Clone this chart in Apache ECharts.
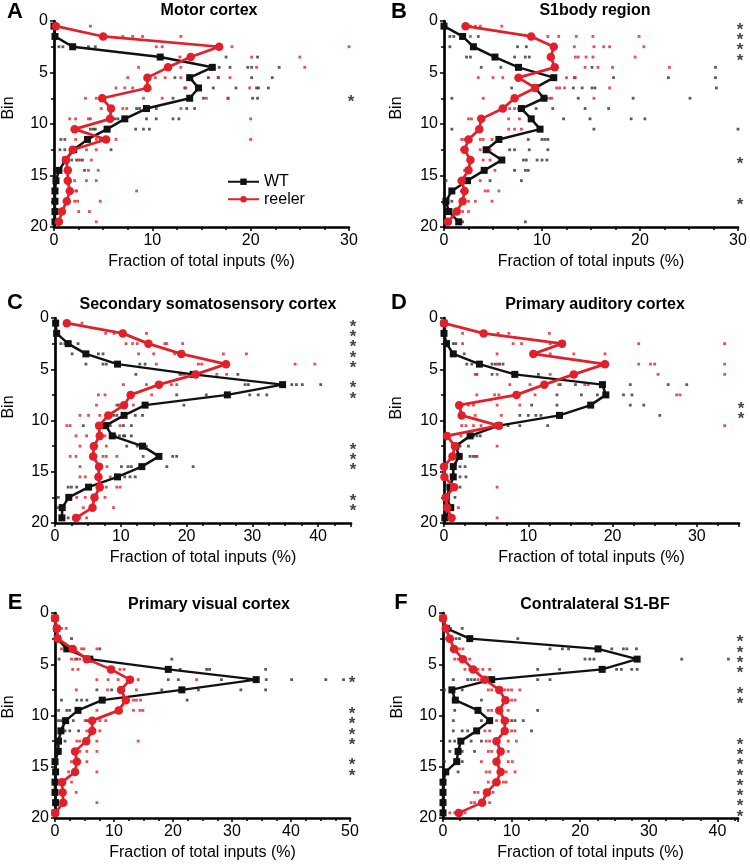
<!DOCTYPE html>
<html>
<head>
<meta charset="utf-8">
<script src="https://cdn.jsdelivr.net/npm/echarts@6/dist/echarts.min.js"></script>
<style>html,body{margin:0;padding:0;background:#fff}#c{width:750px;height:868px}</style>
</head>
<body>
<div id="c"></div>
<script>
// ---------- DATA ----------
const bins = [0.5,1.5,2.5,3.5,4.5,5.5,6.5,7.5,8.5,9.5,10.5,11.5,12.5,13.5,14.5,15.5,16.5,17.5,18.5,19.5];
const xTickMaxes = [30, 30, 45, 35, 50, 43];
const panelLetters = ['A','B','C','D','E','F'];
const panelTitles = ['Motor cortex','S1body region','Secondary somatosensory cortex','Primary auditory cortex','Primary visual cortex','Contralateral S1-BF'];
const seriesNames = ['WT','reeler'];
const xAxisTitle = 'Fraction of total inputs (%)';
const yAxisTitle = 'Bin';

const wtA = [0,0.1,1.9,10.8,16.1,13.8,14.7,13.8,9.4,7.2,5.4,3.4,2.0,1.2,0.5,0.2,0.1,0.1,0.1,0.1];
const reelerA = [0.2,5.0,16.8,13.9,11.6,9.5,9.5,4.9,5.8,5.7,2.1,5.3,1.9,1.2,1.4,1.4,1.6,1.3,0.8,0.5];
const wtB = [0,1.9,3.0,5.2,7.6,11.2,9.3,10.2,7.9,8.9,9.8,5.6,4.3,5.9,4.1,2.4,0.8,0.2,0.5,1.5];
const reelerB = [2.2,8.9,11.2,10.9,11.3,7.6,9.3,7.2,6.0,3.8,3.6,2.5,2.1,2.7,2.5,1.8,2.1,1.9,1.3,0.4];
const wtC = [0.1,0.25,2.0,4.7,9.5,21.0,34.6,26.2,13.7,10.5,7.7,8.7,13.3,15.8,13.2,9.5,5.1,2.1,1.1,1.05];
const reelerC = [1.8,10.3,14.2,19.2,26.0,21.4,15.8,11.5,10.5,8.1,6.7,6.8,5.9,5.8,6.7,6.6,6.8,6.0,5.7,3.2];
const wtD = [0,0,0.3,1.1,4.2,8.4,18.8,19.2,17.4,13.7,6.5,3.1,1.4,1.8,1.1,1.1,0.7,0.3,0.8,0.1];
const reelerD = [0,4.7,14.0,10.6,19.1,15.4,11.9,8.6,1.8,2.1,6.5,0.35,1.3,1.0,0,0.05,1.2,0.2,0.35,0.9];
const wtE = [0,0.3,0.4,2.0,5.9,19.2,34.1,21.5,8.0,3.9,1.8,1.0,0.6,0.55,0,0.1,0,0,0.1,0];
const reelerE = [0,0.3,0.45,3.0,5.4,9.5,12.7,11.2,12.0,10.8,6.3,6.3,5.3,3.4,3.7,3.4,1.2,1.3,1.4,0.05];
const wtF = [0,0.5,3.9,22.6,28.3,23.2,7.1,1.3,1.8,5.1,6.8,4.9,2.6,2.2,2.0,0.4,0,0,0,0];
const reelerF = [0,0.4,1.0,1.6,2.9,4.4,6.1,8.2,9.1,8.2,9.0,9.0,7.8,8.4,7.8,8.4,7.8,6.4,5.7,2.3];

// individual animals, one list per bin (index = bin row)
const dotsWtA = [[],[],[0.5,0.9,3.5,4.2],[17.5,20.7],[16.8,17.9,19.7,20.1,22.9],[12.3,15.7,16.7,20.1,22.2],[13.3,16.2,18.5,20.6,20.8,21.8],[12.1,15.2,17.7,20.2,20.7],[8.4,8.7,10.4,13.5,14.3],[6.2,6.5,9.4,10.4,12.1,12.7],[3.7,4.0,4.2,8.3,9.1,9.7],[0.7,1.1,4.7],[0.6,1.1,5.8],[1.8,2.3,2.9],[1.6,3.1],[],[],[],[],[]];
const dotsReA = [[3.7],[7.0,8.0,9.0,12.9],[10.4,11.0,18.1,30.0,30.8],[12.8,20.1,25.0],[8.6,12.9,20.6,25.5],[7.5,10.3,11.3,12.9,16.7,17.9],[6.3,7.2,8.0,13.4,19.9],[3.2,4.3,9.1,11.0,15.5,17.7],[4.8,6.0,7.0,7.4,12.9],[1.6,2.2,3.5,3.7,20.0],[2.0],[2.2,4.3,6.3,20.0],[1.8,3.3,4.3],[2.5,2.7,3.8],[3.5,4.5],[2.1,3.3,4.3],[2.2,2.3,8.4],[2.1,2.4,4.7],[2.5,3.6],[4.3]];
const dotsWtB = [[],[0.6,1.0,3.5],[0.6,7.5,8.4],[2.3,2.7,7.2,8.3,8.7],[3.8,5.8,15.1,27.7],[13.3,17.3,22.9,27.7],[6.9,13.2,14.1,15.1,15.4,27.8],[0.8,10.5,13.7,19.3,25.1],[9.4,11.1,14.4,16.8],[12.2,14.9,19.1,20.5],[0.8,15.3,30.0],[8.6,10.0,10.3,10.6],[6.7,7.2,8.7,10.6],[8.1,8.4,9.5,10.0,10.5],[7.2,8.3,8.6],[0.2,4.7,7.9],[0.8,1.8],[0.8],[],[1.9,8.3]];
const dotsReB = [[2.7,3.2,3.7,5.9],[2.7,10.6,11.7,13.5,15.2,19.9],[13.3,15.3,16.3,16.9,20.4],[13.4,13.7,14.5,15.2,19.5],[14.4,15.7,17.2,23.0],[3.5,5.0,6.0,12.5,13.4],[11.5,11.8,12.3,16.9],[4.0,10.8,11.0,15.3],[6.7,7.2,7.6],[2.5,2.8,6.6,7.7],[6.6,7.2,7.9],[1.8,2.1,3.7,4.0,4.9],[1.8,3.7,4.7],[2.8,4.0,4.7],[2.1,4.2,5.2],[3.7],[4.2,4.5,5.6],[2.5,3.2,4.9],[1.9,2.5],[0.4]];
const dotsWtC = [[],[],[0.9,1.5,3.5],[2.6,6.6,7.3],[4.7,7.3,7.8,12.9,13.7],[12.3,19.0,27.8],[28.9,29.4,36.0,36.7,37.6,40.4],[18.5,23.0,29.6,30.9,32.2],[9.6,10.6,19.6],[8.9,9.4,12.2,13.3],[4.3,8.4,10.4,11.6],[9.2,9.8,10.4,10.6,11.6],[10.9,12.5,13.4,13.9],[13.4,17.9,18.5],[10.1,11.1,11.6,17.0,21.0],[10.6,11.4,12.2],[2.0,2.5,3.3],[0.5],[0.5],[2.0]];
const dotsReC = [[4.1],[7.7,9.0,13.9],[10.8,11.8,12.5,16.7,17.0,19.4],[12.7,15.0,18.2,25.6,29.1],[15.4,21.8,22.3,36.5,39.5],[19.3,19.7,24.6,26.1],[10.4,13.9,17.7,18.5],[6.6,7.6,14.7],[6.3,9.4,9.9,11.9],[3.8,5.1,6.8],[1.8,2.3,9.9],[3.2,4.8,7.6],[3.8,6.3,7.8],[2.3,3.2,7.3,7.8,9.4],[3.8,7.9],[3.8,4.6,8.4],[7.8,9.4,9.9],[3.3,4.6,7.6],[4.3,8.9],[1.0,3.8,4.8]];
const dotsWtD = [[],[],[1.1,1.4],[2.4],[2.7,3.3,5.7,6.1,6.6,7.0],[3.9,5.7,11.2],[13.8,15.6,22.1,26.6,28.8],[13.4,16.3,18.2,21.3,22.3],[10.4,13.4,22.1,23.7],[9.0,10.0,10.9,11.5,25.6],[7.6,9.0,12.3],[3.5,3.9,4.3],[1.4,1.9,2.9],[2.0,3.1,3.5,3.9],[1.9,2.5],[1.9,2.6],[1.9],[1.3],[],[]];
const dotsReD = [[],[2.2,6.4,7.7,12.5],[2.2,8.2,9.2,12.6,23.1,33.3],[6.3,12.6,15.4,19.1],[6.4,23.1,24.5,25.0,33.3],[3.7,6.3,12.6,25.4,33.3],[7.8,10.2,13.6,16.7,17.1],[3.9,6.0,6.5,10.8,27.6,28.0],[2.9,3.5,6.3,9.0],[3.7,6.8],[2.1,2.6,3.5,4.4,33.3],[2.0],[6.3],[3.7],[],[],[6.3],[],[1.7],[6.3]];
const dotsWtE = [[],[],[2.8],[7.6],[0.7,3.7,19.8],[21.2,25.7,26.2,35.7],[19.2,20.9,28.2,35.8,40.1,45.9,48.9],[7.1,9.6,18.1,24.3,31.5,35.7],[1.1,3.7,4.5,5.4,22.4],[0.6,2.0,2.5],[0.6,1.1,3.1,5.4],[1.7,2.5,4.0],[0.8,1.7],[],[],[],[],[],[],[]];
const dotsReE = [[],[1.1,1.9],[],[1.1,4.5,4.9,7.1],[2.8,3.4,4.2],[3.0,3.9,11.0,11.7],[7.1,9.0,10.7,14.1,24.0],[3.6,8.9,13.8],[13.3,13.8,14.5],[7.1,13.3,14.4,14.9],[5.1,7.6,8.6],[5.4,7.6],[3.7,4.2,7.1,14.1],[4.2,5.4,7.1],[2.8,4.2,5.4],[2.3,7.1],[2.8],[3.6],[7.1],[]];
const dotsWtF = [[],[1.1,2.8],[1.2,1.9,2.4,10.9],[15.6,17.4,18.3,24.6,26.3,26.8,28.2],[20.7,21.4,22.0,34.8,41.6],[13.8,17.0,25.3,26.0,27.5,28.3],[1.5,3.6,4.1,4.6,13.8,15.6],[0.2,2.8],[1.5,5.6],[1.7,13.8],[1.5,5.6,10.0,10.5,11.7],[1.5,2.8,3.6,12.9],[1.0,1.7,4.1,5.6],[1.0,2.8,4.6],[0.2,2.8],[2.2],[],[],[],[]];
const dotsReF = [[],[],[0.5],[2.4,2.9],[1.7,2.2,3.2,3.9],[3.2,3.9,5.1,5.8,6.8],[5.1,5.6,6.3],[6.6,7.1,9.0,9.5,10.0,11.2],[8.8,10.0,10.5],[6.6,7.1,9.5],[6.6,7.1,7.8,9.5],[6.1,6.8,10.0,10.5],[6.3,6.8,9.5,10.7],[6.6,7.1,9.5],[5.6,7.8,9.5,10.1],[6.3,6.8,9.2,10.5],[6.6,7.3,8.8,9.2],[4.6,5.1,7.3],[4.1,4.6,6.8],[1.0,1.7,3.2]];

// bins with significant difference (asterisks)
const sigA = [7.5];
const sigB = [0.5,1.5,2.5,3.5,13.5,17.5];
const sigC = [0.5,1.5,2.5,3.5,4.5,6.5,7.5,12.5,13.5,14.5,17.5,18.5];
const sigD = [8.5,9.5];
const sigE = [6.5,9.5,10.5,11.5,12.5,14.5,15.5];
const sigF = [2.5,3.5,4.5,5.5,7.5,8.5,12.5,13.5,14.5,15.5,16.5,17.5,18.5,19.5];

// ---------- LAYOUT ----------
const FONT = "'Liberation Sans', Arial, sans-serif";
const RED = '#e3202a';
const BLACK = '#111111';
const grids = [
  {left:54, top:21, width:295, height:206},
  {left:444, top:21, width:294, height:206},
  {left:55, top:318, width:296, height:205},
  {left:444, top:318, width:295, height:205},
  {left:55, top:613, width:295, height:205},
  {left:443, top:613, width:295, height:205}
];
const titlePos = [[209,11],[595,11],[208,305],[595,305],[209,605],[595,605]];
const letterPos = [[15,12],[399,12],[15,303],[399,303],[15,603],[401,603]];
const binPos = [[9,108],[397,108],[9,407],[397,408],[9,707],[398,707]];

const panels = [
  {wt:wtA, re:reelerA, dw:dotsWtA, dr:dotsReA, sig:sigA},
  {wt:wtB, re:reelerB, dw:dotsWtB, dr:dotsReB, sig:sigB},
  {wt:wtC, re:reelerC, dw:dotsWtC, dr:dotsReC, sig:sigC},
  {wt:wtD, re:reelerD, dw:dotsWtD, dr:dotsReD, sig:sigD},
  {wt:wtE, re:reelerE, dw:dotsWtE, dr:dotsReE, sig:sigE},
  {wt:wtF, re:reelerF, dw:dotsWtF, dr:dotsReF, sig:sigF}
];

function dotPairs(rows) {
  const out = [];
  rows.forEach((vals, i) => vals.forEach(v => out.push([v, bins[i]])));
  return out;
}

const xAxes = [], yAxes = [], series = [], graphics = [];
panels.forEach((p, i) => {
  const max = xTickMaxes[i];
  xAxes.push({
    gridIndex:i, type:'value', min:0, max:max, interval:10,
    name:xAxisTitle, nameLocation:'middle', nameGap:27,
    nameTextStyle:{fontSize:16, color:'#000', fontFamily:FONT},
    axisLine:{onZero:false, lineStyle:{color:'#000', width:2.7}},
    axisTick:{show:true, length:4, lineStyle:{color:'#000', width:1.5}},
    minorTick:{show:true, splitNumber:4, length:3, lineStyle:{color:'#000', width:1.5}},
    axisLabel:{fontSize:16, color:'#000', margin:6, fontFamily:FONT, showMaxLabel:(max % 10 === 0)},
    splitLine:{show:false}
  });
  yAxes.push({
    gridIndex:i, type:'value', min:0, max:20, interval:5, inverse:true,
    axisLine:{onZero:false, lineStyle:{color:'#000', width:2.7}},
    axisTick:{show:true, length:4, lineStyle:{color:'#000', width:1.5}},
    minorTick:{show:true, splitNumber:2, length:3, lineStyle:{color:'#000', width:1.5}},
    axisLabel:{fontSize:16, color:'#000', margin:6, fontFamily:FONT},
    splitLine:{show:false}
  });
  series.push({
    type:'scatter', name:'WT animals', xAxisIndex:i, yAxisIndex:i,
    symbol:'rect', symbolSize:2.8, itemStyle:{color:'#333'}, data:dotPairs(p.dw), z:1, silent:true
  });
  series.push({
    type:'scatter', name:'reeler animals', xAxisIndex:i, yAxisIndex:i,
    symbol:'rect', symbolSize:2.8, itemStyle:{color:RED}, data:dotPairs(p.dr), z:1, silent:true
  });
  series.push({
    type:'line', name:seriesNames[0], xAxisIndex:i, yAxisIndex:i,
    data:p.wt.map((v, k) => [v, bins[k]]),
    symbol:'rect', symbolSize:7, showAllSymbol:true,
    lineStyle:{color:BLACK, width:2.5}, itemStyle:{color:BLACK}, z:3
  });
  series.push({
    type:'line', name:seriesNames[1], xAxisIndex:i, yAxisIndex:i,
    data:p.re.map((v, k) => [v, bins[k]]),
    symbol:'circle', symbolSize:8.5, showAllSymbol:true,
    lineStyle:{color:RED, width:2.7}, itemStyle:{color:RED}, z:4
  });
  series.push({
    type:'scatter', name:'significance', xAxisIndex:i, yAxisIndex:i,
    data:p.sig.map(b => [max, b]), symbolSize:0.1, clip:false,
    itemStyle:{color:'rgba(0,0,0,0)'}, silent:true,
    label:{show:true, formatter:'*', position:'inside', offset:[2,4], fontSize:17, fontWeight:'bold', color:'#111', fontFamily:FONT}
  });
  graphics.push({type:'text', x:titlePos[i][0], y:titlePos[i][1],
    style:{text:panelTitles[i], font:'bold 16px ' + FONT, fill:'#000', textAlign:'center', textVerticalAlign:'middle'}});
  graphics.push({type:'text', x:letterPos[i][0], y:letterPos[i][1],
    style:{text:panelLetters[i], font:'bold 22px ' + FONT, fill:'#000', textAlign:'center', textVerticalAlign:'middle'}});
  graphics.push({type:'text', x:binPos[i][0], y:binPos[i][1], rotation:Math.PI/2,
    style:{text:yAxisTitle, font:'16px ' + FONT, fill:'#000', textAlign:'center', textVerticalAlign:'middle'}});
});

const chart = echarts.init(document.getElementById('c'), null, {renderer:'canvas'});
chart.setOption({
  animation:false,
  backgroundColor:'#fff',
  textStyle:{fontFamily:FONT},
  grid:grids,
  xAxis:xAxes,
  yAxis:yAxes,
  legend:{
    data:seriesNames, orient:'vertical', left:222, top:168,
    itemWidth:31, itemHeight:8, itemGap:0, selectedMode:false,
    textStyle:{fontSize:16, color:'#000', lineHeight:17.5, fontFamily:FONT}
  },
  graphic:graphics,
  series:series
});
</script>
</body>
</html>
